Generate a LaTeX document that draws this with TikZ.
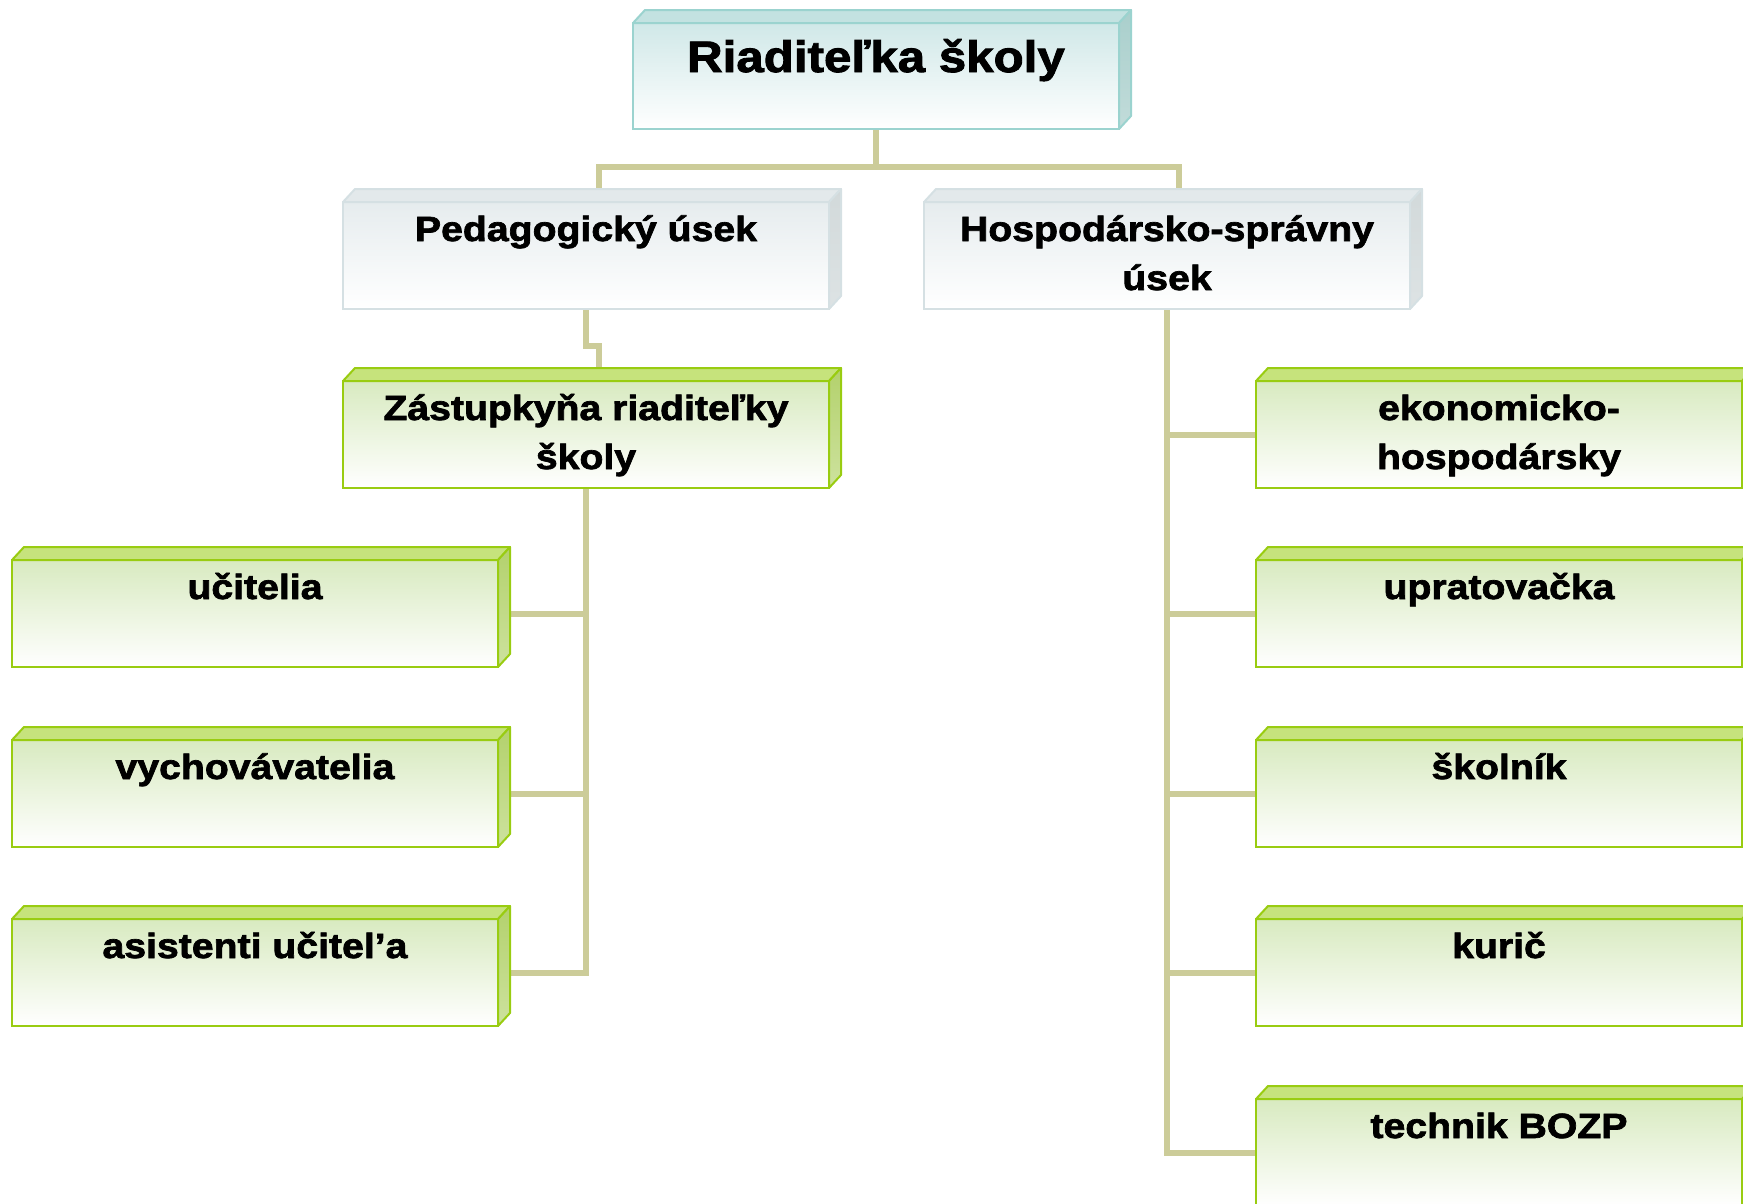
\documentclass[tikz,border=0pt]{standalone}
\usepackage{fontspec}
\newfontfamily\orgfont{Liberation Sans}[FakeStretch=1.12,FakeBold=2]
\usetikzlibrary{calc}
\pgfdeclarelayer{bg}
\pgfsetlayers{bg,main}
\definecolor{connc}{HTML}{CCCC99}
\definecolor{tealb}{HTML}{9BD3CF}
\definecolor{tealf}{HTML}{D0E8E8}
\definecolor{tealtop}{HTML}{C3E2E1}
\definecolor{tealsideA}{HTML}{A9CFCC}
\definecolor{tealsideB}{HTML}{C2DCDA}
\definecolor{greyb}{HTML}{D5E0E3}
\definecolor{greyf}{HTML}{E6ECEE}
\definecolor{greytop}{HTML}{E3E9EB}
\definecolor{greysideA}{HTML}{D2D9DA}
\definecolor{greysideB}{HTML}{DDE3E4}
\definecolor{greenb}{HTML}{99CC11}
\definecolor{greenf}{HTML}{D8EAC0}
\definecolor{greentop}{HTML}{C6E37C}
\definecolor{greensideA}{HTML}{B3D16C}
\definecolor{greensideB}{HTML}{CDE29E}
\newcommand\bt[1]{\parbox[c][107pt][t]{480pt}{\centering\vspace*{4.7pt}\strut#1\par}}
\newcommand\titletxt[1]{\parbox[c][106pt][t]{480pt}{\centering\vspace*{12.6pt}\strut#1\par}}
\newcommand\boxfaces[5]{%
  \filldraw[fill=#2,draw=#5,line width=2pt,line join=round]
    (#1.north west) -- ++(12,-13) -- ($(#1.north east)+(12,-13)$) -- (#1.north east) -- cycle;
  \filldraw[top color=#3,bottom color=#4,draw=#5,line width=2pt,line join=round]
    (#1.north east) -- ++(12,-13) -- ($(#1.south east)+(12,-13)$) -- (#1.south east) -- cycle;
}
\tikzset{
  conn/.style={draw=connc,line width=6pt},
  orgbox/.style={rectangle,inner sep=0pt,outer sep=0pt,minimum width=486pt,
    minimum height=107pt,anchor=north west,line width=2pt,text=black,
    font=\orgfont\fontsize{35}{49}\bfseries\selectfont},
  tealbox/.style={orgbox,minimum height=106pt,draw=tealb,top color=tealf,bottom color=white,
    font=\orgfont\fontsize{44}{52}\bfseries\selectfont},
  greybox/.style={orgbox,draw=greyb,top color=greyf,bottom color=white},
  greenbox/.style={orgbox,draw=greenb,top color=greenf,bottom color=white},
}
\begin{document}
\begin{tikzpicture}[x=1pt,y=-1pt]
\useasboundingbox (0,0) rectangle (1743,1203);
% boxes
\node[tealbox] (top) at (633,23) {\titletxt{Riaditeľka školy}};
\node[greybox] (ped) at (343,202) {\bt{Pedagogický úsek}};
\node[greybox] (hosp) at (924,202) {\bt{Hospodársko-správny\\úsek}};
\node[greenbox] (zast) at (343,381) {\bt{Zástupkyňa riaditeľky\\školy}};
\node[greenbox] (uc) at (12,560) {\bt{učitelia}};
\node[greenbox] (vy) at (12,740) {\bt{vychovávatelia}};
\node[greenbox] (as) at (12,919) {\bt{asistenti učitel’a}};
\node[greenbox] (eko) at (1256,381) {\bt{ekonomicko-\\hospodársky}};
\node[greenbox] (upr) at (1256,560) {\bt{upratovačka}};
\node[greenbox] (sko) at (1256,740) {\bt{školník}};
\node[greenbox] (kur) at (1256,919) {\bt{kurič}};
\node[greenbox] (tech) at (1256,1099) {\bt{technik BOZP}};
% 3D faces
\boxfaces{top}{tealtop}{tealsideA}{tealsideB}{tealb}
\boxfaces{ped}{greytop}{greysideA}{greysideB}{greyb}
\boxfaces{hosp}{greytop}{greysideA}{greysideB}{greyb}
\foreach \n in {zast,uc,vy,as,eko,upr,sko,kur,tech}{
  \boxfaces{\n}{greentop}{greensideA}{greensideB}{greenb}
}
% connectors
\begin{pgfonlayer}{bg}
\draw[conn] (top.south) -- ++(0,38) -| ([xshift=13pt]ped.north);
\draw[conn] (top.south) -- ++(0,38) -| ([xshift=12pt]hosp.north);
\draw[conn] (ped.south) -- ++(0,37) -| ([xshift=13pt]zast.north);
\draw[conn] (zast.south) |- (uc.east);
\draw[conn] (zast.south) |- (vy.east);
\draw[conn] (zast.south) |- (as.east);
\draw[conn] (hosp.south) |- (eko.west);
\draw[conn] (hosp.south) |- (upr.west);
\draw[conn] (hosp.south) |- (sko.west);
\draw[conn] (hosp.south) |- (kur.west);
\draw[conn] (hosp.south) |- (tech.west);
\end{pgfonlayer}
\end{tikzpicture}
\end{document}
